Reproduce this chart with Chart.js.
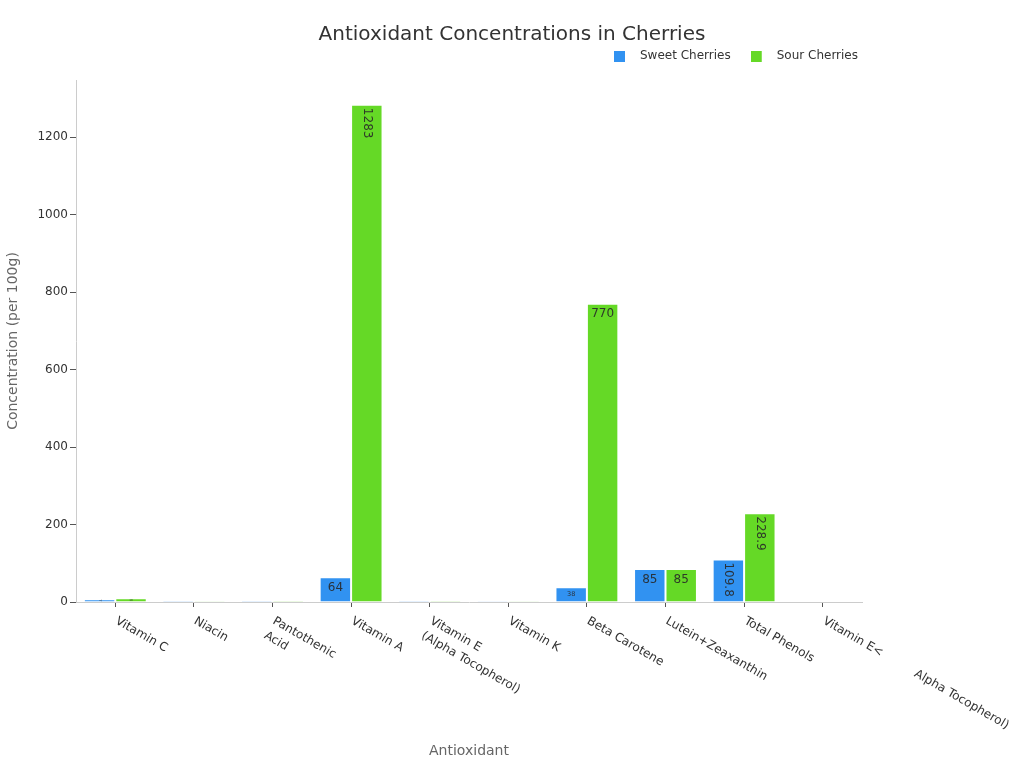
<!DOCTYPE html>
<html lang="en">
<head>
  <meta charset="UTF-8" />
  <title>Antioxidant Concentrations in Cherries</title>
  <script src="https://cdn.jsdelivr.net/npm/chart.js"></script>
  <style>
    body {
      margin: 0;
      background: #fff;
    }
    #chart-container {
      width: 1024px;
      height: 768px;
    }
  </style>
</head>
<body>
  <div id="chart-container">
    <canvas id="cherryChart"></canvas>
  </div>

  <script>
    const categories = [
      'Vitamin C',
      'Niacin',
      ['Pantothenic', 'Acid'],
      'Vitamin A',
      ['Vitamin E', '(Alpha Tocopherol)'],
      'Vitamin K',
      'Beta Carotene',
      'Lutein+Zeaxanthin',
      'Total Phenols',
      'Vitamin E<          Alpha Tocopherol)'
    ];
    const sweetValues = [7, 0.154, 0.199, 64, 0.07, 2.1, 38, 85, 109.8, null];
    const sourValues = [10, 0.4, 0.143, 1283, 0.07, 2.1, 770, 85, 228.9, null];
    const seriesNames = ['Sweet Cherries', 'Sour Cherries'];
    const seriesColors = ['#3192f1', '#65d926'];
    const yTickStep = 200;
    const yMax = 1283 * 1.05;

    Chart.defaults.font.family = "'DejaVu Sans', sans-serif";
    Chart.defaults.font.size = 12;
    Chart.defaults.color = '#333';

    // legend swatch: 11px square with empty room after it, so text sits further right
    function swatch(color) {
      const c = document.createElement('canvas');
      c.width = 20;
      c.height = 11;
      const g = c.getContext('2d');
      g.fillStyle = color;
      g.fillRect(0, 0, 11, 11);
      return c;
    }
    const swatches = seriesColors.map(swatch);

    // x labels go down-right from each tick, which Chart.js can't do itself
    const slantedLabels = {
      id: 'slantedLabels',
      afterDraw(chart) {
        const scale = chart.scales.x;
        const ctx = chart.ctx;
        const angle = 30 * Math.PI / 180;
        ctx.save();
        ctx.font = "12px 'DejaVu Sans', sans-serif";
        ctx.fillStyle = '#333';
        ctx.textAlign = 'left';
        ctx.textBaseline = 'top';
        categories.forEach((label, i) => {
          const lines = Array.isArray(label) ? label : [label];
          const x = scale.getPixelForTick(i);
          ctx.save();
          ctx.translate(x + 4, scale.top + 13);
          ctx.rotate(angle);
          lines.forEach((line, j) => ctx.fillText(line, 0, j * 17));
          ctx.restore();
        });
        ctx.restore();
      }
    };

    // values inside the top of each bar, shrunk or turned when they don't fit
    const barValues = {
      id: 'barValues',
      afterDatasetsDraw(chart) {
        const ctx = chart.ctx;
        ctx.save();
        ctx.fillStyle = 'rgba(40,40,40,0.9)';
        chart.data.datasets.forEach((ds, di) => {
          const meta = chart.getDatasetMeta(di);
          meta.data.forEach((bar, i) => {
            const v = ds.data[i];
            if (v == null || v === 0) return;
            const text = String(v);
            const w = bar.width;
            const h = bar.base - bar.y;
            ctx.font = "12px 'DejaVu Sans', sans-serif";
            const tw = ctx.measureText(text).width;
            const th = 15;
            const pad = h > 12 ? 3 : 0;
            let size = 12, rotated = false;
            if (tw + 2 * pad <= w && th + 2 * pad <= h) {
              size = 12;
            } else if (th + 2 * pad <= w && tw + 2 * pad <= h) {
              rotated = true;
            } else {
              const sH = Math.min((w - 2 * pad) / tw, (h - 2 * pad) / th);
              const sR = Math.min((w - 2 * pad) / th, (h - 2 * pad) / tw);
              rotated = sR > sH;
              size = 12 * Math.max(sH, sR);
            }
            if (size < 0.5) return;
            ctx.font = size + "px 'DejaVu Sans', sans-serif";
            ctx.textBaseline = 'middle';
            if (rotated) {
              ctx.save();
              ctx.translate(bar.x, bar.y + pad);
              ctx.rotate(Math.PI / 2);
              ctx.textAlign = 'left';
              ctx.fillText(text, 0, 0);
              ctx.restore();
            } else {
              ctx.textAlign = 'center';
              ctx.fillText(text, bar.x, bar.y + pad + th * size / 12 * 0.5);
            }
          });
        });
        ctx.restore();
      }
    };

    const legendShift = {
      id: 'legendShift',
      afterLayout(chart) {
        chart.legend.left += 16;
        chart.legend.right += 16;
      }
    };

    const ctx = document.getElementById('cherryChart').getContext('2d');
    const cherryChart = new Chart(ctx, {
      type: 'bar',
      data: {
        labels: categories,
        datasets: [
          {
            label: seriesNames[0],
            data: sweetValues,
            backgroundColor: seriesColors[0],
            borderColor: 'rgba(255,255,255,0.45)',
            borderWidth: 1
          },
          {
            label: seriesNames[1],
            data: sourValues,
            backgroundColor: seriesColors[1],
            borderColor: 'rgba(255,255,255,0.45)',
            borderWidth: 1
          }
        ]
      },
      options: {
        responsive: true,
        maintainAspectRatio: false,
        animation: false,
        datasets: {
          bar: { categoryPercentage: 0.8, barPercentage: 1.0 }
        },
        plugins: {
          tooltip: { enabled: false },
          title: {
            display: true,
            text: 'Antioxidant Concentrations in Cherries',
            color: '#333',
            font: { size: 20, weight: 'normal' },
            padding: { top: 23, bottom: -17 }
          },
          legend: {
            display: true,
            position: 'top',
            align: 'end',
            fullSize: false,
            labels: {
              color: '#333',
              font: { size: 12 },
              padding: 20,
              usePointStyle: true,
              pointStyleWidth: 20,
              generateLabels(chart) {
                const items = Chart.defaults.plugins.legend.labels.generateLabels(chart);
                items.forEach((it, i) => { it.pointStyle = swatches[i]; });
                return items;
              }
            }
          }
        },
        scales: {
          x: {
            grid: {
              display: true,
              drawOnChartArea: false,
              drawTicks: true,
              tickLength: 5,
              offset: false,
              color: '#555'
            },
            border: { color: '#ccc' },
            ticks: { display: false },
            title: {
              display: true,
              text: 'Antioxidant',
              color: '#666',
              font: { size: 14 },
              padding: { top: 0, bottom: 8 }
            },
            afterFit(s) { s.height = 166; }
          },
          // empty strip between legend and plot
          xTop: {
            type: 'linear',
            axis: 'x',
            position: 'top',
            display: true,
            grid: { display: false },
            border: { display: false },
            ticks: { display: false },
            afterFit(s) { s.height = 8; }
          },
          y: {
            min: 0,
            max: yMax,
            grid: {
              display: true,
              drawOnChartArea: false,
              drawTicks: true,
              tickLength: 6,
              color: '#555'
            },
            border: { color: '#ccc' },
            ticks: {
              stepSize: yTickStep,
              padding: 2,
              color: '#333',
              font: { size: 12 },
              callback: v => String(v)
            },
            afterBuildTicks(s) {
              s.ticks = s.ticks.filter(t => t.value % yTickStep === 0);
            },
            title: {
              display: true,
              text: 'Concentration (per 100g)',
              color: '#666',
              font: { size: 14 },
              padding: { top: 5, bottom: 0 }
            },
            afterFit(s) { s.width = 76; }
          },
          yRight: {
            position: 'right',
            display: true,
            grid: { display: false },
            border: { display: false },
            ticks: { display: false },
            afterFit(s) { s.width = 162; }
          }
        }
      },
      plugins: [slantedLabels, barValues, legendShift]
    });
  </script>
</body>
</html>
